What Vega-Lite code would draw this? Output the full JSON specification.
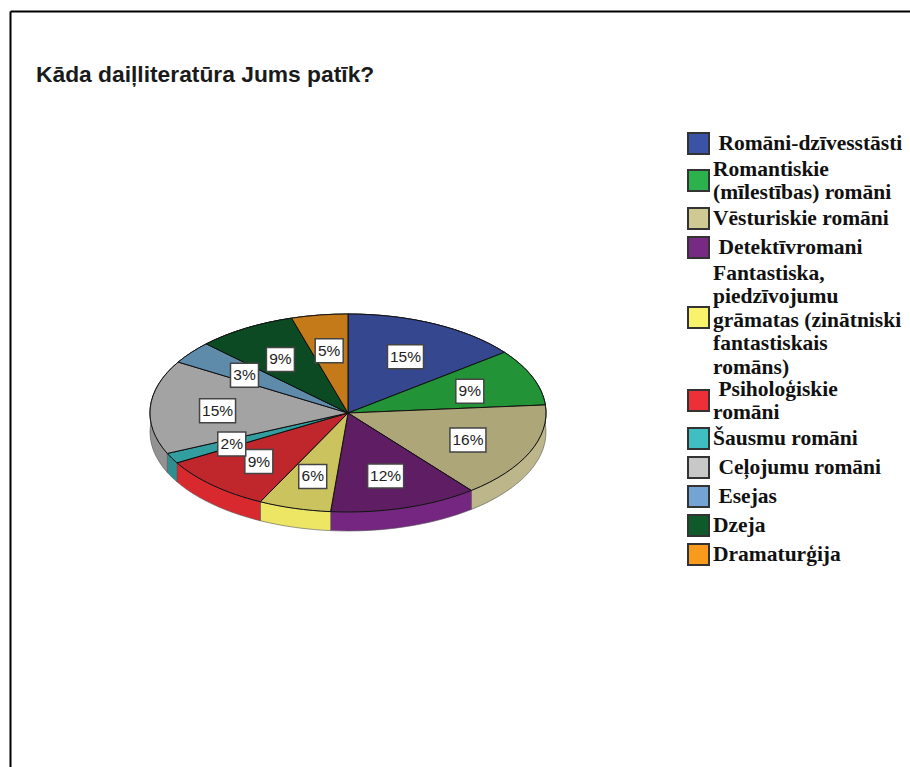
{"$schema":"https://vega.github.io/schema/vega-lite/v6.json","width":900,"height":756,"autosize":"none","padding":{"left":10,"top":11,"right":0,"bottom":0},"background":"white","view":{"stroke":null},"title":{"text":"Kāda daiļliteratūra Jums patīk?","anchor":"start","frame":"group","dx":26,"dy":80,"fontSize":22.8,"font":"Liberation Sans","fontWeight":"bold","color":"#1a1a1a"},"data":{"values":[{"order":1,"genre":"\u200b\u00a0Romāni-dzīvesstāsti","share":14.5,"pct":"15%","top":"#35478F","side":"#3A4E9C"},{"order":2,"genre":"Romantiskie\n(mīlestības) romāni","share":9.2,"pct":"9%","top":"#239337","side":"#28A545"},{"order":3,"genre":"Vēsturiskie romāni","share":15.6,"pct":"16%","top":"#ADA679","side":"#BDB68A"},{"order":4,"genre":"\u200b\u00a0Detektīvromani","share":12.1,"pct":"12%","top":"#5F1E63","side":"#742680"},{"order":5,"genre":"Fantastiska,\npiedzīvojumu\ngrāmatas (zinātniski\nfantastiskais\nromāns)","share":5.9,"pct":"6%","top":"#CBC45E","side":"#EDE665"},{"order":6,"genre":"\u200b\u00a0Psiholoģiskie\nromāni","share":9.3,"pct":"9%","top":"#BF272D","side":"#D8292F"},{"order":7,"genre":"Šausmu romāni","share":1.7,"pct":"2%","top":"#339E9F","side":"#2E8E90"},{"order":8,"genre":"\u200b\u00a0Ceļojumu romāni","share":15.3,"pct":"15%","top":"#A3A3A3","side":"#929292"},{"order":9,"genre":"\u200b\u00a0Esejas","share":3.7,"pct":"3%","top":"#5F8BAB","side":"#6A98C0"},{"order":10,"genre":"Dzeja","share":8.1,"pct":"9%","top":"#0B4A22","side":"#0E5A2B"},{"order":11,"genre":"Dramaturģija","share":4.6,"pct":"5%","top":"#C47A19","side":"#E08A1A"}]},"transform":[{"window":[{"op":"sum","field":"share","as":"cum"}],"sort":[{"field":"order","order":"ascending"}]},{"calculate":"(datum.cum-datum.share)/100*2*PI","as":"a0"},{"calculate":"datum.cum/100*2*PI","as":"a1"},{"calculate":"(datum.a0+datum.a1)/2","as":"mid"},{"calculate":"round(198*sin(datum.a0)*100)/100","as":"x0"},{"calculate":"round(-99*cos(datum.a0)*100)/100","as":"y0"},{"calculate":"round(198*sin(datum.a1)*100)/100","as":"x1"},{"calculate":"round(-99*cos(datum.a1)*100)/100","as":"y1"},{"calculate":"datum.a1-datum.a0>PI?1:0","as":"lg"},{"calculate":"'M0,0L'+datum.x0+','+datum.y0+'A198,99,0,'+datum.lg+',1,'+datum.x1+','+datum.y1+'Z'","as":"wedge"},{"calculate":"'M'+datum.x0+','+datum.y0+'A198,99,0,'+datum.lg+',1,'+datum.x1+','+datum.y1+'L'+datum.x1+','+(datum.y1+19)+'A198,99,0,'+datum.lg+',0,'+datum.x0+','+(datum.y0+19)+'Z'","as":"rim"},{"calculate":"length(datum.pct)>2?18:14","as":"hw"},{"calculate":"'M'+(-datum.hw)+',-12H'+datum.hw+'V12H'+(-datum.hw)+'Z'","as":"box"},{"calculate":"0.66*198*sin(datum.mid)","as":"lx"},{"calculate":"-0.65*99*cos(datum.mid)+1.5","as":"ly"}],"layer":[{"mark":{"type":"point","filled":true,"size":4,"opacity":1,"stroke":"#222222","strokeWidth":1},"encoding":{"x":{"datum":0,"type":"quantitative","scale":{"domain":[-338,562],"nice":false,"zero":false},"axis":{"orient":"top","domain":true,"domainColor":"#000000","domainWidth":2,"ticks":false,"labels":false,"grid":false,"title":null}},"y":{"datum":0,"type":"quantitative","scale":{"domain":[354,-402],"nice":false,"zero":false},"axis":{"orient":"left","domain":true,"domainColor":"#000000","domainWidth":2,"ticks":false,"labels":false,"grid":false,"title":null}},"shape":{"field":"wedge","type":"nominal","scale":null,"legend":null},"fill":{"field":"genre","type":"nominal","sort":null,"scale":{"domain":["\u200b\u00a0Romāni-dzīvesstāsti","Romantiskie\n(mīlestības) romāni","Vēsturiskie romāni","\u200b\u00a0Detektīvromani","Fantastiska,\npiedzīvojumu\ngrāmatas (zinātniski\nfantastiskais\nromāns)","\u200b\u00a0Psiholoģiskie\nromāni","Šausmu romāni","\u200b\u00a0Ceļojumu romāni","\u200b\u00a0Esejas","Dzeja","Dramaturģija"],"range":["#3B53A4","#2BB24C","#CFC993","#762A83","#F9F36B","#ED2F38","#3FBFBF","#C8C8C8","#74A4D4","#0E5A2B","#F89A1C"]},"legend":{"orient":"none","legendX":677,"legendY":121,"title":null,"symbolType":"square","symbolSize":441,"symbolStrokeColor":"#333333","symbolStrokeWidth":2,"labelFont":"Liberation Serif","labelFontWeight":"bold","labelFontSize":21.5,"labelColor":"#111111","labelLimit":400,"labelOffset":3,"rowPadding":0,"labelExpr":"split(datum.label,'\\n')","encoding":{"labels":{"dy":{"value":{"signal":"-(length(split(datum.label,'\\n'))-1)*11"}}}}}},"order":{"field":"order"}}},{"mark":{"type":"point","filled":true,"size":4,"opacity":1,"stroke":"#555555","strokeWidth":0.6},"encoding":{"x":{"datum":0,"type":"quantitative"},"y":{"datum":0,"type":"quantitative"},"shape":{"field":"rim","type":"nominal","scale":null,"legend":null},"fill":{"field":"side","type":"nominal","scale":null,"legend":null},"order":{"field":"order"}}},{"mark":{"type":"point","filled":true,"size":4,"opacity":1,"stroke":"#111111","strokeWidth":1},"encoding":{"x":{"datum":0,"type":"quantitative"},"y":{"datum":0,"type":"quantitative"},"shape":{"field":"wedge","type":"nominal","scale":null,"legend":null},"fill":{"field":"top","type":"nominal","scale":null,"legend":null},"order":{"field":"order"}}},{"mark":{"type":"point","filled":true,"size":4,"opacity":1,"stroke":"#444444","strokeWidth":1.5,"fill":"white"},"encoding":{"x":{"field":"lx","type":"quantitative"},"y":{"field":"ly","type":"quantitative"},"shape":{"field":"box","type":"nominal","scale":null,"legend":null},"order":{"field":"order"}}},{"mark":{"type":"text","font":"Liberation Sans","fontSize":15.5,"color":"#222222","baseline":"middle","align":"center"},"encoding":{"x":{"field":"lx","type":"quantitative"},"y":{"field":"ly","type":"quantitative"},"text":{"field":"pct"}}}],"resolve":{"scale":{"fill":"independent","shape":"independent"}}}
